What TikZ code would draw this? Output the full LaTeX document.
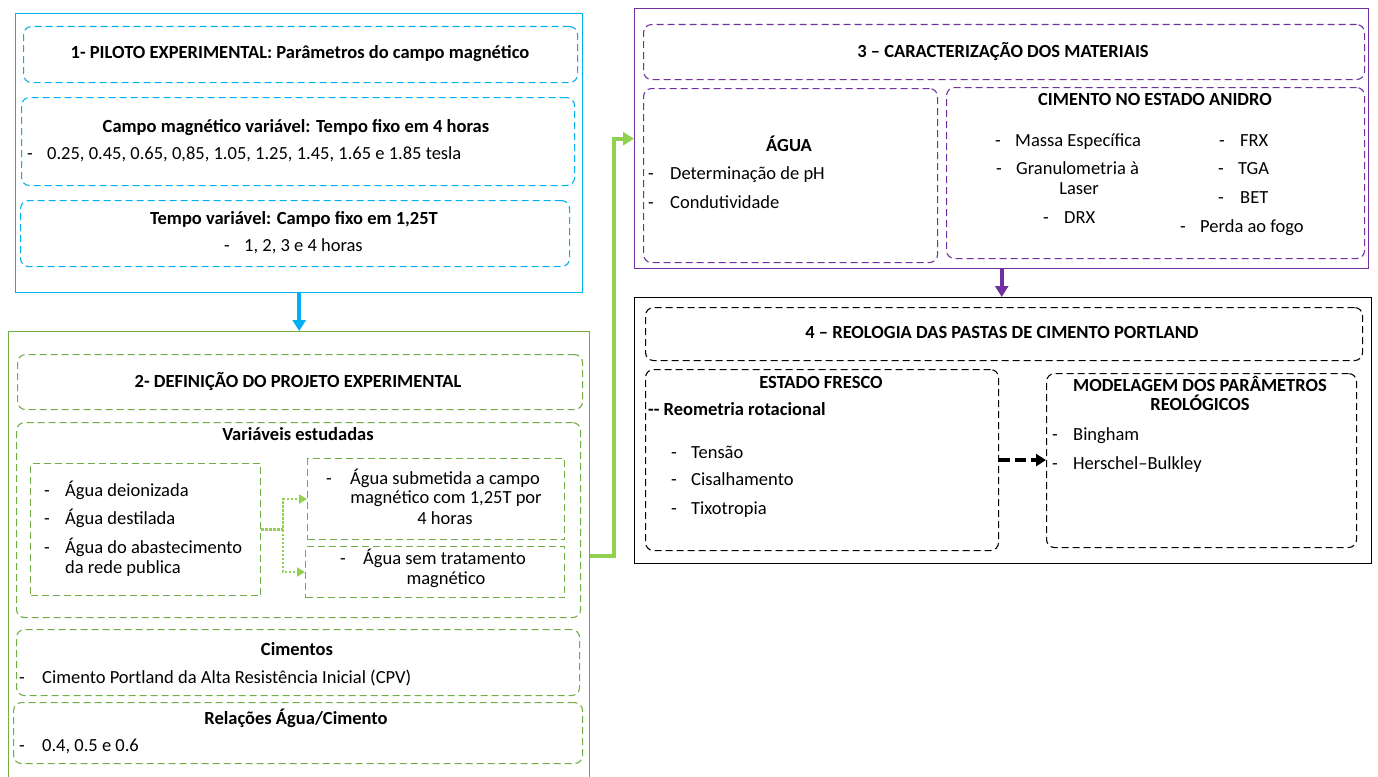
\documentclass[tikz,border=0pt]{standalone}
\usepackage{fontspec}
\setmainfont{Carlito}
\usetikzlibrary{arrows.meta}
\definecolor{cblue}{HTML}{00B0F0}
\definecolor{cgreen}{HTML}{70AD47}
\definecolor{lgreen}{HTML}{92D050}
\definecolor{cpurple}{HTML}{7030A0}
\newcommand\fs{\fontsize{18.5}{20}\selectfont}
\newcommand\itemdash[1][21pt]{\makebox[#1][l]{-}}
\begin{document}
\begin{tikzpicture}[x=1pt,y=-1pt,
  frame/.style={draw, line width=1.4pt, inner sep=0pt, anchor=north west},
  dbox/.style={draw, line width=1.1pt, dash pattern=on 7pt off 4pt, rounded corners=8pt, inner sep=0pt, anchor=north west},
  sbox/.style={dbox, sharp corners},
  tx/.style={inner sep=0pt, font=\fs, anchor=base west},
  txb/.style={inner sep=0pt, font=\fs\bfseries, anchor=base west},
  tc/.style={inner sep=0pt, font=\fs, anchor=base},
  hb/.style={inner sep=0pt, font=\fs\bfseries, anchor=base},
  fat/.style={line width=4pt, -{Triangle[length=11pt,width=13pt]}},
  darrow/.style={draw=lgreen, line width=2.5pt, dash pattern=on 2.5pt off 1.5pt, -{Triangle[length=8pt,width=9pt]}},
  karrow/.style={draw=black, line width=4pt, dash pattern=on 11pt off 5pt, -{Triangle[length=10pt,width=12pt]}}
]
\useasboundingbox (0,0) rectangle (1378,776);

% ---------- Box 1
\node[frame, draw=cblue, minimum width=567pt, minimum height=279pt] (p1) at (15,13) {};
\node[dbox, draw=cblue, minimum width=554pt, minimum height=56pt] (b1t) at (23,26) {};
\node[dbox, draw=cblue, minimum width=553pt, minimum height=88pt] (b1a) at (21,97) {};
\node[dbox, draw=cblue, minimum width=549pt, minimum height=66pt] (b1b) at (20,200) {};
\node[hb] (t1) at (300,59) {1- PILOTO EXPERIMENTAL: Parâmetros do campo magnético};
\node[hb] (t1a) at (296,132) {Campo magnético variável: Tempo fixo em 4 horas};
\node[tx] (i1a) at (27,159) {\itemdash[20pt]0.25, 0.45, 0.65, 0,85, 1.05, 1.25, 1.45, 1.65 e 1.85 tesla};
\node[hb] (t1b) at (294,224) {Tempo variável: Campo fixo em 1,25T};
\node[tx] (i1b) at (224,251) {\itemdash[20pt]1, 2, 3 e 4 horas};

% ---------- Box 2
\node[frame, draw=cgreen, minimum width=581pt, minimum height=449pt] (p2) at (8,331) {};
\node[dbox, draw=cgreen, minimum width=565pt, minimum height=55pt] (b2t) at (17,354) {};
\node[dbox, draw=cgreen, minimum width=564pt, minimum height=195pt] (b2v) at (16,422) {};
\node[sbox, draw=cgreen, minimum width=230pt, minimum height=132pt] (vl) at (30,463) {};
\node[sbox, draw=cgreen, minimum width=257pt, minimum height=81pt] (vr1) at (307,458) {};
\node[sbox, draw=cgreen, minimum width=259pt, minimum height=51pt] (vr2) at (305,546) {};
\node[dbox, draw=cgreen, minimum width=563pt, minimum height=66pt] (bc) at (16,629) {};
\node[dbox, draw=cgreen, minimum width=569pt, minimum height=61pt] (br) at (13,702) {};
\node[hb] (t2) at (298,387) {2- DEFINIÇÃO DO PROJETO EXPERIMENTAL};
\node[hb] (t2v) at (298,440) {Variáveis estudadas};
\node[tx] (v1) at (44,496) {\itemdash Água deionizada};
\node[tx] (v2) at (44,524) {\itemdash Água destilada};
\node[tx] (v3) at (44,553) {\itemdash Água do abastecimento};
\node[tx] (v3b) at (65,573) {da rede publica};
\node[tx] (r1a) at (326,484) {\itemdash[24pt]Água submetida a campo};
\node[tc] (r1b) at (446,503) {magnético com 1,25T por};
\node[tc] (r1c) at (445,524) {4 horas};
\node[tx] (r2a) at (340,564) {\itemdash[23pt]Água sem tratamento};
\node[tc] (r2b) at (446,584) {magnético};
\node[hb] (t2c) at (297,655) {Cimentos};
\node[tx] (c1) at (19,683) {\itemdash[23pt]Cimento Portland da Alta Resistência Inicial (CPV)};
\node[hb] (t2r) at (296,724) {Relações Água/Cimento};
\node[tx] (c2) at (19,751) {\itemdash[23pt]0.4, 0.5 e 0.6};

% ---------- Box 3
\node[frame, draw=cpurple, minimum width=734pt, minimum height=260pt] (p3) at (634,8) {};
\node[dbox, draw=cpurple, minimum width=721pt, minimum height=55pt] (b3t) at (643,24) {};
\node[dbox, draw=cpurple, minimum width=294pt, minimum height=174pt] (b3w) at (643,88) {};
\node[dbox, draw=cpurple, minimum width=418pt, minimum height=171pt] (b3c) at (946,87) {};
\node[hb] (t3) at (1003,58) {3 – CARACTERIZAÇÃO DOS MATERIAIS};
\node[hb] (tw) at (789,151) {ÁGUA};
\node[tx] (w1) at (648,179) {\itemdash[22pt]Determinação de pH};
\node[tx] (w2) at (648,208) {\itemdash[22pt]Condutividade};
\node[hb] (tcim) at (1155,105) {CIMENTO NO ESTADO ANIDRO};
\node[tx] (m1) at (995,146) {\itemdash[20pt]Massa Específica};
\node[tx] (m2) at (996,174) {\itemdash[20pt]Granulometria à};
\node[tc] (m2b) at (1079,194) {Laser};
\node[tx] (m3) at (1043,223) {\itemdash[21pt]DRX};
\node[tx] (n1) at (1219,146) {\itemdash[21pt]FRX};
\node[tx] (n2) at (1218,174) {\itemdash[20pt]TGA};
\node[tx] (n3) at (1218,203) {\itemdash[22pt]BET};
\node[tx] (n4) at (1180,232) {\itemdash[20pt]Perda ao fogo};

% ---------- Box 4
\node[frame, draw=black, minimum width=737pt, minimum height=266pt] (p4) at (634,297) {};
\node[dbox, draw=black, minimum width=717pt, minimum height=53pt] (b4t) at (645,307) {};
\node[dbox, draw=black, minimum width=353pt, minimum height=181pt] (ef) at (645,369) {};
\node[dbox, draw=black, minimum width=310pt, minimum height=174pt] (mod) at (1046,373) {};
\node[hb] (t4) at (1002,338) {4 – REOLOGIA DAS PASTAS DE CIMENTO PORTLAND};
\node[hb] (tef) at (821,388) {ESTADO FRESCO};
\node[txb] (ef0) at (648,415) {-{}- Reometria rotacional};
\node[tx] (e1) at (671,458) {\itemdash[20pt]Tensão};
\node[tx] (e2) at (671,485) {\itemdash[20pt]Cisalhamento};
\node[tx] (e3) at (671,514) {\itemdash[20pt]Tixotropia};
\node[hb] (tm1) at (1200,391) {MODELAGEM DOS PARÂMETROS};
\node[hb] (tm2) at (1200,410) {REOLÓGICOS};
\node[tx] (q1) at (1052,440) {\itemdash[21pt]Bingham};
\node[tx] (q2) at (1052,469) {\itemdash[21pt]Herschel–Bulkley};

% ---------- Connectors
\draw[fat, draw=cblue] (p1.south) -- (p1.south |- p2.north);
\draw[fat, draw=cpurple] (p3.south) -- (p3.south |- p4.north);
\draw[fat, draw=lgreen] (p2.east) -- ++(24,0) |- (p3.west);
\draw[darrow] (vl.east) -- ++(22,0) coordinate (dj) |- (vr1.west);
\draw[darrow] (dj) |- (vr2.west);
\draw[karrow] (ef.east) -- (ef.east -| mod.west);
\end{tikzpicture}
\end{document}
